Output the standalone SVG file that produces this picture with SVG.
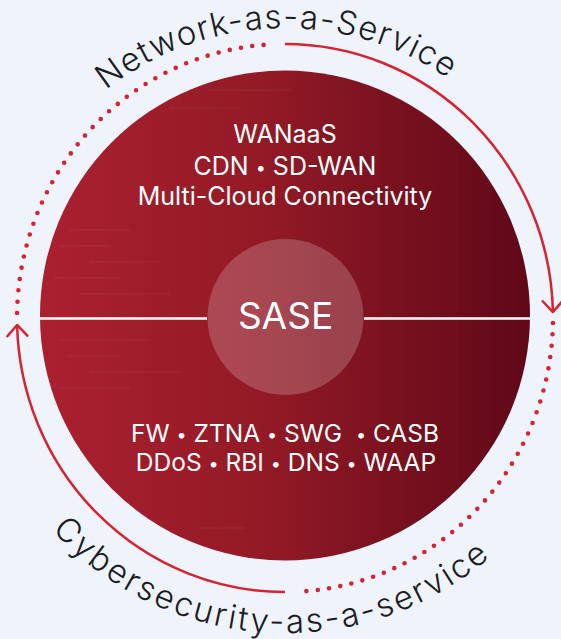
<svg xmlns="http://www.w3.org/2000/svg" width="561" height="639" viewBox="0 0 561 639">
<style>
.ring{fill:none;stroke:#d8222f;stroke-width:2.5}
.dots{fill:none;stroke:#d8222f;stroke-width:4.6;stroke-linecap:round;stroke-dasharray:0 11.4}
.arc{font-family:Inter,"Liberation Sans",sans-serif;font-size:33px;font-weight:300;fill:#1c1c22}
.in{font-family:Inter,"Liberation Sans",sans-serif;font-size:25px;fill:#ffffff;text-anchor:middle}
.sm{font-size:24.5px}
.b{font-size:18px}
.sep{stroke:#ffffff;stroke-width:2.5}
.tex{stroke:#ffffff;stroke-width:2.5;opacity:0.035;stroke-linecap:round}
</style>
<defs>
<linearGradient id="bg" x1="0" y1="0" x2="1" y2="0">
<stop offset="0" stop-color="#ab2030"/>
<stop offset="0.45" stop-color="#931a26"/>
<stop offset="1" stop-color="#600818"/>
</linearGradient>
<clipPath id="cc"><circle cx="285" cy="315.5" r="245"/></clipPath>
<marker id="ah" markerUnits="userSpaceOnUse" markerWidth="30" markerHeight="30" viewBox="-15 -15 30 30" refX="0" refY="0" orient="auto">
<path d="M-11,-10 L0,0 L-11,10" fill="none" stroke="#d8222f" stroke-width="2.5" stroke-linecap="round" stroke-linejoin="round"/>
</marker>
<path id="topPath" d="M106 90 A290 290 0 0 1 536 173"/>
<path id="botPath" d="M52 530 A315 315 0 0 0 558 475.5"/>
</defs>
<rect width="561" height="639" fill="#eff4fc"/>

<g id="sase-disc">
<circle cx="285" cy="315.5" r="245" fill="url(#bg)"/>
<g clip-path="url(#cc)">
<line class="tex" x1="70" y1="230" x2="130" y2="230"/>
<line class="tex" x1="60" y1="246" x2="110" y2="246"/>
<line class="tex" x1="90" y1="262" x2="160" y2="262"/>
<line class="tex" x1="55" y1="278" x2="120" y2="278"/>
<line class="tex" x1="80" y1="294" x2="170" y2="294"/>
<line class="tex" x1="60" y1="340" x2="150" y2="340"/>
<line class="tex" x1="70" y1="356" x2="120" y2="356"/>
<line class="tex" x1="90" y1="372" x2="180" y2="372"/>
<line class="tex" x1="60" y1="388" x2="130" y2="388"/>
<line class="tex" x1="210" y1="90" x2="290" y2="90"/>
<line class="tex" x1="170" y1="108" x2="240" y2="108"/>
<line class="tex" x1="200" y1="528" x2="245" y2="528"/>
</g>
<line class="sep" x1="40" y1="318.5" x2="207" y2="318.5"/>
<line class="sep" x1="364" y1="318.5" x2="530" y2="318.5"/>
</g>

<g id="naas">
<text class="in" x="285" y="143">WANaaS</text>
<text class="in" x="285" y="175">CDN <tspan class="b" dy="-1.5">•</tspan><tspan dy="1.5"> SD-WAN</tspan></text>
<text class="in" x="285" y="205">Multi-Cloud Connectivity</text>
</g>

<g id="sase">
<circle cx="285.5" cy="317" r="78" fill="#ffffff" fill-opacity="0.2"/>
<text x="285.5" y="329" font-family="Inter,'Liberation Sans',sans-serif" font-size="37" fill="#ffffff" text-anchor="middle">SASE</text>
</g>

<g id="secaas">
<text class="in sm" x="285" y="442" style="white-space:pre">FW <tspan class="b" dy="-1.5">•</tspan><tspan dy="1.5"> ZTNA </tspan><tspan class="b" dy="-1.5">•</tspan><tspan dy="1.5"> SWG  </tspan><tspan class="b" dy="-1.5">•</tspan><tspan dy="1.5"> CASB</tspan></text>
<text class="in sm" x="286" y="471">DDoS <tspan class="b" dy="-1.5">•</tspan><tspan dy="1.5"> RBI </tspan><tspan class="b" dy="-1.5">•</tspan><tspan dy="1.5"> DNS </tspan><tspan class="b" dy="-1.5">•</tspan><tspan dy="1.5"> WAAP</tspan></text>
</g>

<g id="connectors">
<path class="dots" d="M17.05 312.98 A268 274 0 0 1 272.98 44.28"/>
<path class="ring" d="M285 44 A268 274 0 0 1 552.94 312.02" marker-end="url(#ah)"/>
<path class="dots" d="M552.95 323.02 A268 274 0 0 1 297.02 591.72"/>
<path class="ring" d="M285 592 A268 274 0 0 1 17.09 324.98" marker-end="url(#ah)"/>
</g>

<g id="label-naas">
<text class="arc" letter-spacing="1.2"><textPath href="#topPath">Network-as-a-Service</textPath></text>
</g>
<g id="label-secaas">
<text class="arc" letter-spacing="2.4"><textPath href="#botPath">Cybersecurity-as-a-service</textPath></text>
</g>
</svg>
